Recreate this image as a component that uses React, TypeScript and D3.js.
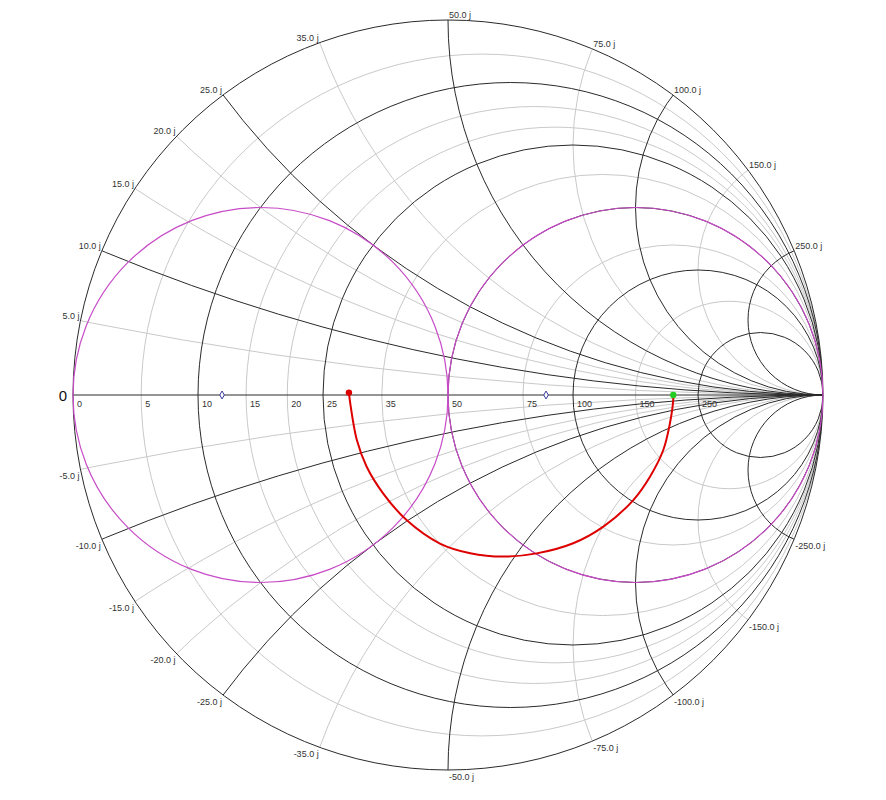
import React, { useEffect, useRef } from 'react';
import { select, scaleLinear, line, curveCatmullRom, symbol, symbolDiamond } from 'd3';

// reference impedance (ohms)
const Z0 = 50;

// grid values (ohms)
const resistanceTicks = [0, 5, 10, 15, 20, 25, 35, 50, 75, 100, 150, 250];
const reactanceTicks = [5, 10, 15, 20, 25, 35, 50, 75, 100, 150, 250];
const majorTicks = [10, 25, 50, 100, 250];

// highlighted circles: constant R and constant G (as ohms)
const highlightR = [50];
const highlightG = [50];

const traceR = [29.1, 29.3, 29.7, 30.2, 31.2, 32.6, 35.1, 38.5, 43.4, 50.3, 61.0, 75.6, 101.3, 127.2, 159.9, 186.9, 200.1, 200.4];
const traceX = [0.4, -1.4, -7.7, -12.6, -18.2, -24.8, -33.0, -39.7, -47.2, -55.5, -65.9, -75.3, -83.8, -83.7, -72.3, -43.8, -8.4, 0];

// marker diamonds on the real axis (ohms)
const markerR = [12.4, 85.4];
const markerX = [0, 0];

const toGamma = (R: number, X: number): [number, number] => {
  const r = R / Z0, x = X / Z0;
  const d = (r + 1) * (r + 1) + x * x;
  return [(r * r + x * x - 1) / d, (2 * x) / d];
};

const fmt = (v: number) => `${v.toFixed(1)} j`;

export default function App() {
  const svgRef = useRef<SVGSVGElement>(null);

  useEffect(() => {
    if (!svgRef.current) return;
    const width = 886, height = 800;
    const cx = 448, cy = 395, rad = 375;

    const svg = select(svgRef.current);
    svg.selectAll('*').remove();
    svg.attr('width', width).attr('height', height);

    const gx = scaleLinear().domain([-1, 1]).range([cx - rad, cx + rad]);
    const gy = scaleLinear().domain([-1, 1]).range([cy + rad, cy - rad]);
    const gr = (v: number) => gx(v) - gx(0);

    const black = '#2a2a2a', gray = '#c9c9c9', magenta = '#c74bc7';
    const font = '"Liberation Sans", Arial, sans-serif';

    svg.append('defs').append('clipPath').attr('id', 'unit')
      .append('circle').attr('cx', gx(0)).attr('cy', gy(0)).attr('r', gr(1));

    const grid = svg.append('g').attr('clip-path', 'url(#unit)').attr('fill', 'none');

    const drawGrid = (major: boolean) => {
      const col = major ? black : gray;
      resistanceTicks.filter(v => v > 0 && majorTicks.includes(v) === major).forEach(v => {
        const r = v / Z0;
        grid.append('circle')
          .attr('cx', gx(r / (1 + r))).attr('cy', gy(0)).attr('r', gr(1 / (1 + r)))
          .attr('stroke', col).attr('stroke-width', 1);
      });
      reactanceTicks.filter(v => majorTicks.includes(v) === major).forEach(v => {
        const x = v / Z0;
        [1, -1].forEach(s => {
          grid.append('circle')
            .attr('cx', gx(1)).attr('cy', gy(s / x)).attr('r', gr(1 / x))
            .attr('stroke', col).attr('stroke-width', 1);
        });
      });
    };
    drawGrid(false);
    drawGrid(true);

    // real axis
    svg.append('line')
      .attr('x1', gx(-1)).attr('x2', gx(1)).attr('y1', gy(0)).attr('y2', gy(0))
      .attr('stroke', black).attr('stroke-width', 1);

    // outer circle
    svg.append('circle').attr('cx', gx(0)).attr('cy', gy(0)).attr('r', gr(1))
      .attr('fill', 'none').attr('stroke', black).attr('stroke-width', 1);

    // highlight circles
    highlightR.forEach(v => {
      const r = v / Z0;
      svg.append('circle').attr('cx', gx(r / (1 + r))).attr('cy', gy(0)).attr('r', gr(1 / (1 + r)))
        .attr('fill', 'none').attr('stroke', magenta).attr('stroke-width', 1.2);
    });
    highlightG.forEach(v => {
      const g = Z0 / v;
      svg.append('circle').attr('cx', gx(-g / (1 + g))).attr('cy', gy(0)).attr('r', gr(1 / (1 + g)))
        .attr('fill', 'none').attr('stroke', magenta).attr('stroke-width', 1.2);
    });

    // labels
    const labels = svg.append('g').attr('font-family', font).attr('font-size', 9).attr('fill', '#333');
    resistanceTicks.forEach(v => {
      const [a] = toGamma(v, 0);
      labels.append('text').attr('x', gx(a) + 4).attr('y', gy(0) + 11.5).text(v);
    });
    reactanceTicks.forEach(v => {
      [1, -1].forEach(s => {
        const [a, b] = toGamma(0, s * v);
        const px = gx(a), py = gy(b);
        const right = px >= cx - 0.5;
        labels.append('text')
          .attr('x', right ? px + 1 : px - 1)
          .attr('y', s > 0 ? py - 2 : py + 9.7)
          .attr('text-anchor', right ? 'start' : 'end')
          .text(fmt(s * v));
      });
    });
    svg.append('text').attr('x', 67).attr('y', gy(0) + 5.5)
      .attr('text-anchor', 'end').attr('font-family', font).attr('font-size', 15).attr('fill', '#111')
      .text('0');

    // trace
    const pts = traceR.map((r, i) => toGamma(r, traceX[i]));
    const path = line<[number, number]>().x(d => gx(d[0])).y(d => gy(d[1])).curve(curveCatmullRom);
    svg.append('path').attr('d', path(pts) || '')
      .attr('fill', 'none').attr('stroke', '#dd0000').attr('stroke-width', 2);

    const first = pts[0], last = pts[pts.length - 1];
    svg.append('circle').attr('cx', gx(first[0])).attr('cy', gy(first[1])).attr('r', 3.2).attr('fill', '#dd0000');
    svg.append('circle').attr('cx', gx(last[0])).attr('cy', gy(last[1])).attr('r', 3.2).attr('fill', '#22cc22');

    // markers
    markerR.forEach((r, i) => {
      const [a, b] = toGamma(r, markerX[i]);
      svg.append('path')
        .attr('d', symbol().type(symbolDiamond).size(18)() || '')
        .attr('transform', `translate(${gx(a)},${gy(b)})`)
        .attr('fill', '#fff').attr('stroke', '#3a3aa0').attr('stroke-width', 1);
    });
  }, []);

  return (
    <svg ref={svgRef} style={{ position: 'absolute', left: 0, top: 0, display: 'block', background: '#fff' }} />
  );
}
